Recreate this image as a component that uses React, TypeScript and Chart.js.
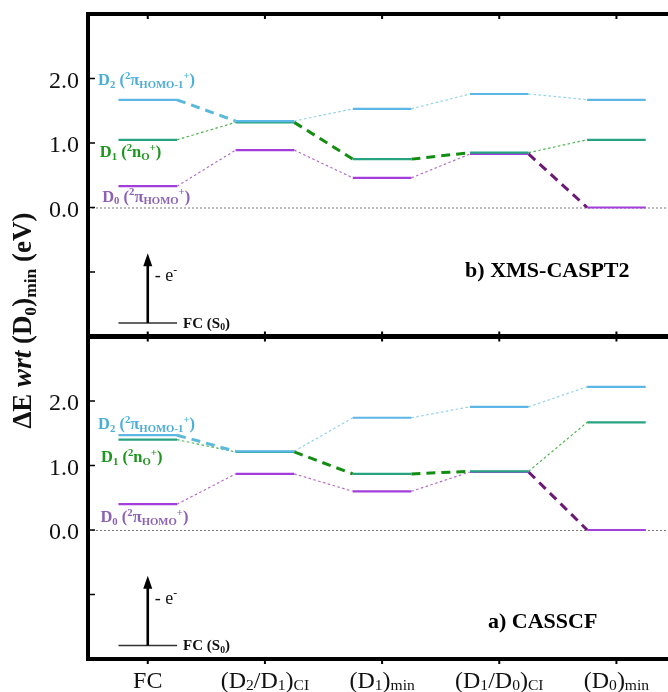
import React, { useEffect, useRef } from 'react';
import { Chart, registerables } from 'chart.js';

Chart.register(...registerables);

// ---------- data ----------
const categories = ['FC', '(D_{2}/D_{1})_{CI}', '(D_{1})_{min}', '(D_{1}/D_{0})_{CI}', '(D_{0})_{min}'];

// b) XMS-CASPT2 (top panel)
const casptD0 = [0.33, 0.89, 0.46, 0.83, 0.0];
const casptD1 = [1.05, 1.32, 0.75, 0.85, 1.05];
const casptD2 = [1.67, 1.34, 1.53, 1.76, 1.67];

// a) CASSCF (bottom panel)
const casscfD0 = [0.4, 0.87, 0.6, 0.9, 0.0];
const casscfD1 = [1.4, 1.21, 0.87, 0.91, 1.67];
const casscfD2 = [1.47, 1.22, 1.74, 1.91, 2.22];

// connector index i (from category i to i+1) drawn as thick dashed (diabatic path)
const diabaticD2 = [0];
const diabaticD1 = [1, 2];
const diabaticD0 = [3];

const yTickLabels = [2, 1, 0];
const yTickMarks = [-1, 0, 1, 2];

const stateLabels = ['D_{2} (^{2}π_{HOMO-1}^{+})', 'D_{1} (^{2}n_{O}^{+})', 'D_{0} (^{2}π_{HOMO}^{+})'];
const panelTitles = ['b) XMS-CASPT2', 'a) CASSCF'];
const yTitle = 'ΔE *{wrt} (D_{0})_{min} (eV)';

// ---------- styles ----------
const FAMILY = '"Liberation Serif", "Times New Roman", Times, serif';
const STATE_STYLE = [
  { seg: '#5cb6e6', dot: '#92d3e8', dash: '#5bbad9', label: '#4cafd6' },
  { seg: '#27a382', dot: '#4db54d', dash: '#138e13', label: '#1e951e' },
  { seg: '#a23fda', dot: '#b46cc6', dash: '#6c1877', label: '#8b62b6' },
];

type Run = { t: string; m: number };
function parseRich(s: string): Run[] {
  const runs: Run[] = [];
  let buf = '';
  let i = 0;
  while (i < s.length) {
    const c = s[i];
    if ((c === '_' || c === '^' || c === '*') && s[i + 1] === '{') {
      if (buf) runs.push({ t: buf, m: 0 });
      buf = '';
      const end = s.indexOf('}', i);
      runs.push({ t: s.slice(i + 2, end), m: c === '_' ? 1 : c === '^' ? 2 : 3 });
      i = end + 1;
    } else {
      buf += c;
      i++;
    }
  }
  if (buf) runs.push({ t: buf, m: 0 });
  return runs;
}

function runFont(m: number, size: number, bold: boolean) {
  const sz = m === 1 || m === 2 ? size * 0.65 : size;
  return `${m === 3 ? 'italic ' : ''}${bold ? 'bold ' : ''}${sz}px ${FAMILY}`;
}

function drawRich(
  ctx: CanvasRenderingContext2D,
  s: string,
  x: number,
  y: number,
  size: number,
  bold: boolean,
  color: string,
  align: 'left' | 'center' | 'right',
  subDrop = 0.16
) {
  const runs = parseRich(s);
  let w = 0;
  const widths = runs.map((r) => {
    ctx.font = runFont(r.m, size, bold);
    const mw = ctx.measureText(r.t).width;
    w += mw;
    return mw;
  });
  let cx = align === 'center' ? x - w / 2 : align === 'right' ? x - w : x;
  ctx.fillStyle = color;
  ctx.textAlign = 'left';
  ctx.textBaseline = 'alphabetic';
  runs.forEach((r, i) => {
    ctx.font = runFont(r.m, size, bold);
    const dy = r.m === 1 ? size * subDrop : r.m === 2 ? -size * 0.38 : 0;
    ctx.fillText(r.t, cx, y + dy);
    cx += widths[i];
  });
}

function levelData(v: number[]) {
  const out: any[] = [];
  v.forEach((val, i) => {
    out.push({ x: i - 0.25, y: val }, { x: i + 0.25, y: val }, { x: i + 0.5, y: null });
  });
  return out;
}

function connectorData(v: number[], idx: number[]) {
  const out: any[] = [];
  idx.forEach((i) => {
    out.push({ x: i + 0.25, y: v[i] }, { x: i + 0.75, y: v[i + 1] }, { x: i + 0.8, y: null });
  });
  return out;
}

function panelDatasets(d2: number[], d1: number[], d0: number[], axis: string) {
  const states = [
    { v: d2, st: STATE_STYLE[0], dia: diabaticD2 },
    { v: d1, st: STATE_STYLE[1], dia: diabaticD1 },
    { v: d0, st: STATE_STYLE[2], dia: diabaticD0 },
  ];
  const all = [0, 1, 2, 3];
  const levels = states.map((s) => ({
    data: levelData(s.v),
    borderColor: s.st.seg,
    borderWidth: 2.2,
    yAxisID: axis,
    spanGaps: false,
    pointRadius: 0,
    borderCapStyle: 'butt',
  }));
  const dashed = states.map((s) => ({
    data: connectorData(s.v, s.dia),
    borderColor: s.st.dash,
    borderWidth: 3,
    borderDash: [9, 6],
    yAxisID: axis,
    spanGaps: false,
    pointRadius: 0,
    borderCapStyle: 'butt',
  }));
  const dotted = states.map((s) => ({
    data: connectorData(
      s.v,
      all.filter((i) => !s.dia.includes(i))
    ),
    borderColor: s.st.dot,
    borderWidth: 1.2,
    borderDash: [2.5, 2.5],
    yAxisID: axis,
    spanGaps: false,
    pointRadius: 0,
    borderCapStyle: 'butt',
  }));
  return [...levels, ...dashed, ...dotted];
}

const decorPlugin = {
  id: 'decor',
  beforeDatasetsDraw(chart: any) {
    const ctx: CanvasRenderingContext2D = chart.ctx;
    const x = chart.scales.x;
    ['yTop', 'yBot'].forEach((id) => {
      const y = chart.scales[id];
      const py = y.getPixelForValue(0);
      ctx.save();
      ctx.strokeStyle = '#7a7a7a';
      ctx.lineWidth = 1;
      ctx.setLineDash([2, 2]);
      ctx.beginPath();
      ctx.moveTo(x.left, py + 0.5);
      ctx.lineTo(x.right, py + 0.5);
      ctx.stroke();
      ctx.restore();
    });
  },
  afterDraw(chart: any) {
    const ctx: CanvasRenderingContext2D = chart.ctx;
    const x = chart.scales.x;
    const yT = chart.scales.yTop;
    const yB = chart.scales.yBot;
    const L = chart.chartArea.left;
    const R = chart.chartArea.right;
    const T = chart.chartArea.top;
    const B = chart.chartArea.bottom;
    const mid = yT.bottom;

    ctx.save();
    // frame
    ctx.strokeStyle = '#000';
    ctx.lineWidth = 4;
    ctx.beginPath();
    ctx.moveTo(L, T - 2);
    ctx.lineTo(L, B + 2);
    ctx.moveTo(L - 2, T);
    ctx.lineTo(R, T);
    ctx.moveTo(L - 2, B);
    ctx.lineTo(R, B);
    ctx.stroke();
    ctx.lineWidth = 5;
    ctx.beginPath();
    ctx.moveTo(L - 2, mid);
    ctx.lineTo(R, mid);
    ctx.stroke();

    // x ticks on borders
    ctx.lineWidth = 2;
    ctx.beginPath();
    categories.forEach((_, i) => {
      const px = x.getPixelForValue(i);
      ctx.moveTo(px, T);
      ctx.lineTo(px, T + 5);
      ctx.moveTo(px, mid - 5);
      ctx.lineTo(px, mid + 5);
      ctx.moveTo(px, B);
      ctx.lineTo(px, B + 5);
    });
    ctx.stroke();

    // y ticks + labels
    [yT, yB].forEach((y) => {
      ctx.lineWidth = 1.5;
      ctx.beginPath();
      yTickMarks.forEach((v) => {
        const py = y.getPixelForValue(v);
        ctx.moveTo(L, py);
        ctx.lineTo(L + 7, py);
      });
      ctx.stroke();
      yTickLabels.forEach((v) => {
        const py = y.getPixelForValue(v);
        drawRich(ctx, v.toFixed(1), L - 9, py + 9, 24, false, '#111', 'right');
      });
    });

    // x labels
    categories.forEach((c, i) => {
      drawRich(ctx, c, x.getPixelForValue(i), B + 29, 24, false, '#111', 'center', 0.1);
    });

    // y title
    ctx.save();
    ctx.translate(31, (T + B) / 2 - 16);
    ctx.rotate(-Math.PI / 2);
    drawRich(ctx, yTitle, 0, 0, 27, true, '#111', 'center', 0.18);
    ctx.restore();

    // per panel annotations
    const panels = [
      { y: yT, title: panelTitles[0], tx: 3.41, ty: -1.08, lab: [[1.9, 0], [0.78, 0.03], [0.09, 0.07]] },
      { y: yB, title: panelTitles[1], tx: 3.37, ty: -1.52, lab: [[1.56, 0], [1.05, 0.05], [0.12, 0.04]] },
    ];
    panels.forEach((p) => {
      const y = p.y;
      // ionisation arrow from FC(S0)
      const x0 = x.getPixelForValue(0);
      const yBase = y.getPixelForValue(-1.79);
      const yTop = y.getPixelForValue(-0.71);
      ctx.strokeStyle = '#333';
      ctx.lineWidth = 1.6;
      ctx.beginPath();
      ctx.moveTo(x.getPixelForValue(-0.25), yBase);
      ctx.lineTo(x.getPixelForValue(0.25), yBase);
      ctx.stroke();
      ctx.strokeStyle = '#000';
      ctx.lineWidth = 2.6;
      ctx.beginPath();
      ctx.moveTo(x0, yBase);
      ctx.lineTo(x0, yTop + 10);
      ctx.stroke();
      ctx.fillStyle = '#000';
      ctx.beginPath();
      ctx.moveTo(x0, yTop);
      ctx.lineTo(x0 - 4.5, yTop + 13);
      ctx.lineTo(x0 + 4.5, yTop + 13);
      ctx.closePath();
      ctx.fill();
      drawRich(ctx, '- e^{-}', x0 + 7, y.getPixelForValue(-1.05) + 6, 18, false, '#111', 'left');
      drawRich(ctx, 'FC (S_{0})', x.getPixelForValue(0.25) + 6, yBase + 5, 15, true, '#111', 'left');

      // state labels
      stateLabels.forEach((s, k) => {
        const lx = L + 10 + p.lab[k][1] * 60;
        const ly = y.getPixelForValue(p.lab[k][0]);
        drawRich(ctx, s, lx, ly, 16.5, true, STATE_STYLE[k].label, 'left');
      });

      // panel title
      drawRich(ctx, p.title, x.getPixelForValue(p.tx), y.getPixelForValue(p.ty), 22, true, '#000', 'center');
    });
    ctx.restore();
  },
};

export default function App() {
  const ref = useRef<HTMLCanvasElement | null>(null);
  useEffect(() => {
    if (!ref.current) return;
    const chart = new Chart(ref.current, {
      type: 'line',
      data: {
        datasets: [
          ...panelDatasets(casptD2, casptD1, casptD0, 'yTop'),
          ...panelDatasets(casscfD2, casscfD1, casscfD0, 'yBot'),
        ] as any,
      },
      options: {
        animation: false,
        responsive: false,
        maintainAspectRatio: false,
        events: [],
        layout: { padding: { left: 88, top: 14, right: 0, bottom: 33 } },
        plugins: { legend: { display: false }, tooltip: { enabled: false } },
        elements: { point: { radius: 0 }, line: { tension: 0 } },
        scales: {
          x: { type: 'linear', min: -0.51, max: 4.44, display: false },
          yTop: { type: 'linear', min: -2, max: 3, display: false, position: 'left', stack: 'p', stackWeight: 1, weight: 2 },
          yBot: { type: 'linear', min: -2, max: 3, display: false, position: 'left', stack: 'p', stackWeight: 1, weight: 1 },
        },
      } as any,
      plugins: [decorPlugin],
    });
    return () => chart.destroy();
  }, []);
  return (
    <div style={{ position: 'fixed', left: 0, top: 0, width: 668, height: 692, background: '#fff' }}>
      <canvas ref={ref} width={668} height={692} style={{ display: 'block' }} />
    </div>
  );
}
